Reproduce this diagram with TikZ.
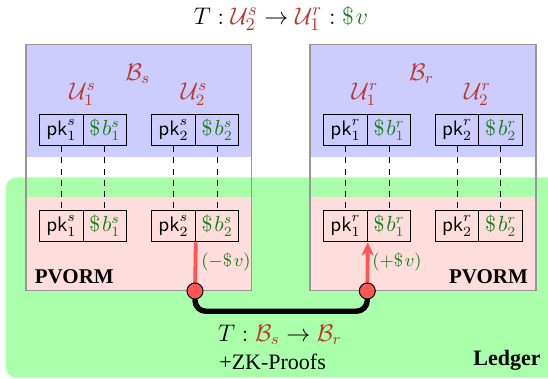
\documentclass[tikz,border=0pt]{standalone}
\usepackage{fontspec}
\setmainfont{Liberation Serif}
\usetikzlibrary{arrows.meta}
\definecolor{bankblue}{RGB}{204,204,255}
\definecolor{pvpink}{RGB}{255,221,221}
\definecolor{ledgergreen}{RGB}{170,255,170}
\definecolor{bred}{RGB}{185,55,45}
\definecolor{dgreen}{RGB}{20,125,20}
\definecolor{lred}{RGB}{255,85,85}
\definecolor{framegray}{RGB}{150,150,150}
\newcommand{\dol}{\$\mkern1.5mu}
\begin{document}
\begin{tikzpicture}[x=0.5pt,y=-0.5pt,
  cellbox/.style={draw=black,line width=0.5pt,minimum width=21.8pt,minimum height=15.8pt,inner sep=0pt},
  celltxt/.style={inner sep=0pt,font=\fontsize{10.5}{12}\selectfont},
  lbl/.style={inner sep=0pt,font=\fontsize{12}{14}\selectfont},
  smalllbl/.style={inner sep=0pt,font=\fontsize{9.5}{11}\selectfont,text=dgreen},
  boldlbl/.style={inner sep=0pt,font=\fontsize{10.5}{12}\selectfont\bfseries},
  dashline/.style={line width=0.5pt,dash pattern=on 3pt off 2.6pt},
  redline/.style={draw=lred,line width=1.9pt},
  dot/.style={circle,fill=lred,draw=black,line width=0.5pt,minimum size=8pt,inner sep=0pt},
  frame/.style={draw=framegray,line width=0.6pt}]
\useasboundingbox (0,0) rectangle (548,379);
% ledger
\fill[ledgergreen,rounded corners=5pt] (6,177.5) rectangle (575,377.7);
% banks
\fill[bankblue] (26,44.3) rectangle (251.7,157.5);
\fill[pvpink] (26,197.5) rectangle (251.7,290.7);
\draw[frame] (26,44.3) rectangle (251.7,290.7);
\fill[bankblue] (310,44.3) rectangle (536,157.5);
\fill[pvpink] (310,197.5) rectangle (536,290.7);
\draw[frame] (310,44.3) rectangle (536,290.7);
% title
\node[lbl,font=\fontsize{12.5}{14}\selectfont] (title) at (281,18.5) {$T : {\color{bred}\mathcal{U}_2^s} \rightarrow {\color{bred}\mathcal{U}_1^r} : {\color{dgreen}\dol v}$};
% bank labels
\node[lbl,text=bred] (Bs) at (138,74) {$\mathcal{B}_s$};
\node[lbl,text=bred] (U1s) at (82.5,94) {$\mathcal{U}_1^s$};
\node[lbl,text=bred] (U2s) at (194,94) {$\mathcal{U}_2^s$};
\node[lbl,text=bred] (Br) at (421.5,74) {$\mathcal{B}_r$};
\node[lbl,text=bred] (U1r) at (365,94) {$\mathcal{U}_1^r$};
\node[lbl,text=bred] (U2r) at (477.5,94) {$\mathcal{U}_2^r$};
% cell frames and texts
\foreach \row/\y in {T/130,B/226}{
  \foreach \c/\x in {pk1s/61.3,b1s/104.9,pk2s/173.5,b2s/217.2,pk1r/345.5,b1r/389.1,pk2r/457.1,b2r/500.8}
    \node[cellbox] (\row-\c) at (\x,\y) {};
  \node[celltxt] at (61.3,\y) {$\mathsf{pk}_1^s$};
  \node[celltxt,text=dgreen] at (104.9,\y) {$\dol b_1^s$};
  \node[celltxt] at (173.5,\y) {$\mathsf{pk}_2^s$};
  \node[celltxt,text=dgreen] at (217.2,\y) {$\dol b_2^s$};
  \node[celltxt] at (345.5,\y) {$\mathsf{pk}_1^r$};
  \node[celltxt,text=dgreen] at (389.1,\y) {$\dol b_1^r$};
  \node[celltxt] at (457.1,\y) {$\mathsf{pk}_2^r$};
  \node[celltxt,text=dgreen] at (500.8,\y) {$\dol b_2^r$};
}
% dashed links
\foreach \c in {pk1s,b1s,pk2s,b2s,pk1r,b1r,pk2r,b2r}
  \draw[dashline] (T-\c.south) -- (B-\c.north);
% labels
\node[boldlbl] (pvL) at (74.3,277) {PVORM};
\node[boldlbl] (pvR) at (488.5,277) {PVORM};
\node[smalllbl] (minus) at (226,262) {$(-\dol v)$};
\node[smalllbl] (plus) at (397,262) {$(+\dol v)$};
\node[lbl] (tx) at (280,335) {$T : {\color{bred}\mathcal{B}_s} \rightarrow {\color{bred}\mathcal{B}_r}$};
\node[lbl,font=\fontsize{11}{13}\selectfont] (zk) at (272.6,361.5) {+ZK-Proofs};
\node[boldlbl,font=\fontsize{11}{13}\selectfont\bfseries] (ledger) at (507,360) {Ledger};
% connectors
\coordinate (dL) at (195,291);
\coordinate (dR) at (367.3,291);
\coordinate (mid) at (281,311.3);
\draw[line width=2.7pt,rounded corners=5.5pt] (dL) |- (mid) -| (dR);
\draw[redline] (B-pk2s.south east) -- (dL);
\draw[redline,-{Stealth[length=6.5pt,width=6pt,inset=1.5pt]}] (dR) -- (B-pk1r.south east);
\node[dot] (dotL) at (dL) {};
\node[dot] (dotR) at (dR) {};
\end{tikzpicture}
\end{document}
